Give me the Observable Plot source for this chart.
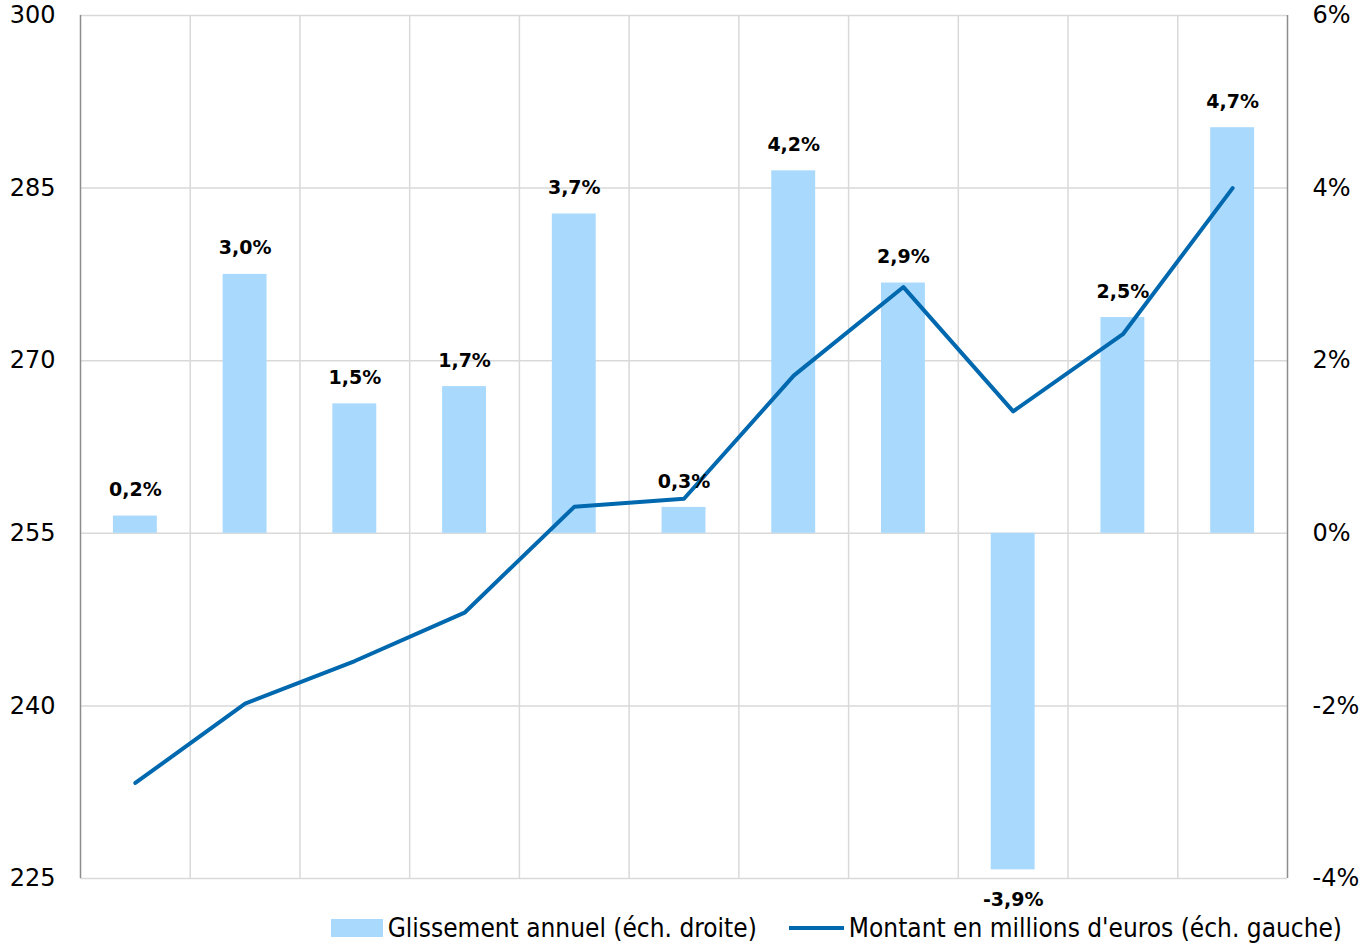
<!DOCTYPE html>
<html>
<head>
<meta charset="utf-8">
<script src="https://cdn.jsdelivr.net/npm/d3@7"></script>
<script src="https://cdn.jsdelivr.net/npm/@observablehq/plot@0.6"></script>
<style>
  html, body { margin: 0; padding: 0; background: #fff; }
  #chart svg { display: block; }
  .legend { display: flex; justify-content: flex-end; align-items: center; width: 1370px; padding-right: 28px; box-sizing: border-box; height: 32px;
    font-family: "DejaVu Sans Condensed", "DejaVu Sans", sans-serif; font-size: 26px; color: #000; }
  .legend .item { display: flex; align-items: center; margin-left: 32px; }
  .sw-bar { width: 52px; height: 18px; background: #A9DAFE; margin-right: 5px; }
  .sw-line { width: 55px; height: 4px; background: #0068AE; margin-right: 5px; }
</style>
</head>
<body>
<div id="chart"></div>
<div class="legend">
  <div class="item"><span class="sw-bar"></span><span>Glissement annuel (éch. droite)</span></div>
  <div class="item"><span class="sw-line"></span><span>Montant en millions d'euros (éch. gauche)</span></div>
</div>
<script>
// Data
const periods = ["1","2","3","4","5","6","7","8","9","10","11"];
const montant = [233.3, 240.2, 243.9, 248.1, 257.3, 258.0, 268.7, 276.4, 265.6, 272.3, 285.0];
const glissement = [0.2, 3.0, 1.5, 1.7, 3.7, 0.3, 4.2, 2.9, -3.9, 2.5, 4.7];
const leftTicks = [225, 240, 255, 270, 285, 300];
const rightTicks = [-4, -2, 0, 2, 4, 6];

// Right scale (%) mapped onto left scale: 0% -> 255, 2% -> 270
const toLeft = p => 255 + p * 7.5;

const W = 1370, ML = 80, MR = 83, MT = 15, H = 912, MB = 34;
const step = (W - ML - MR) / periods.length;

const rows = periods.map((p, i) => ({p, m: montant[i], g: glissement[i], gy: toLeft(glissement[i])}));
const fmtPct = v => (v.toFixed(1).replace(".", ",")) + "%";

const chart = Plot.plot({
  width: W, height: H,
  marginLeft: ML, marginRight: MR, marginTop: MT, marginBottom: MB,
  style: {fontFamily: "DejaVu Sans, sans-serif", background: "#fff"},
  x: {domain: periods, range: [ML, W - MR], round: false, paddingInner: 0.6, paddingOuter: 0.3, axis: null},
  y: {domain: [225, 300], range: [H - MB, MT]},
  marks: [
    // horizontal gridlines
    Plot.ruleY(leftTicks, {stroke: "#d9d9d9", strokeWidth: 1.5}),
    // vertical gridlines between categories
    Plot.ruleX(periods.slice(1), {dx: -step / 2, stroke: "#d9d9d9", strokeWidth: 1.5}),
    // bars (right scale)
    Plot.rectY(rows, {x: "p", y1: 255, y2: "gy", fill: "#A9DAFE"}),
    // line (left scale)
    Plot.line(rows, {x: "p", y: "m", stroke: "#0068AE", strokeWidth: 4, strokeLinejoin: "round"}),
    // labels
    Plot.text(rows.filter(d => d.g >= 0), {x: "p", y: "gy", text: d => fmtPct(d.g), dy: -26, fontSize: 19, fontWeight: "bold", fill: "#000"}),
    Plot.text(rows.filter(d => d.g < 0), {x: "p", y: "gy", text: d => fmtPct(d.g), dy: 30, fontSize: 19, fontWeight: "bold", fill: "#000"}),
    // axis frame lines
    Plot.ruleX([periods[0]], {dx: -step / 2, stroke: "#8c8c8c", strokeWidth: 1.5, y1: 225, y2: 300}),
    Plot.ruleX([periods[periods.length - 1]], {dx: step / 2, stroke: "#8c8c8c", strokeWidth: 1.5, y1: 225, y2: 300}),
    // left axis
    Plot.axisY(leftTicks, {anchor: "left", tickSize: 0, tickPadding: 25, fontSize: 24, tickFormat: d => d, color: "#000"}),
    // right axis
    Plot.axisY(rightTicks.map(toLeft), {anchor: "right", tickSize: 0, tickPadding: 25, fontSize: 24, tickFormat: v => Math.round((v - 255) / 7.5) + "%", color: "#000"})
  ]
});
document.getElementById("chart").appendChild(chart);
</script>
</body>
</html>
